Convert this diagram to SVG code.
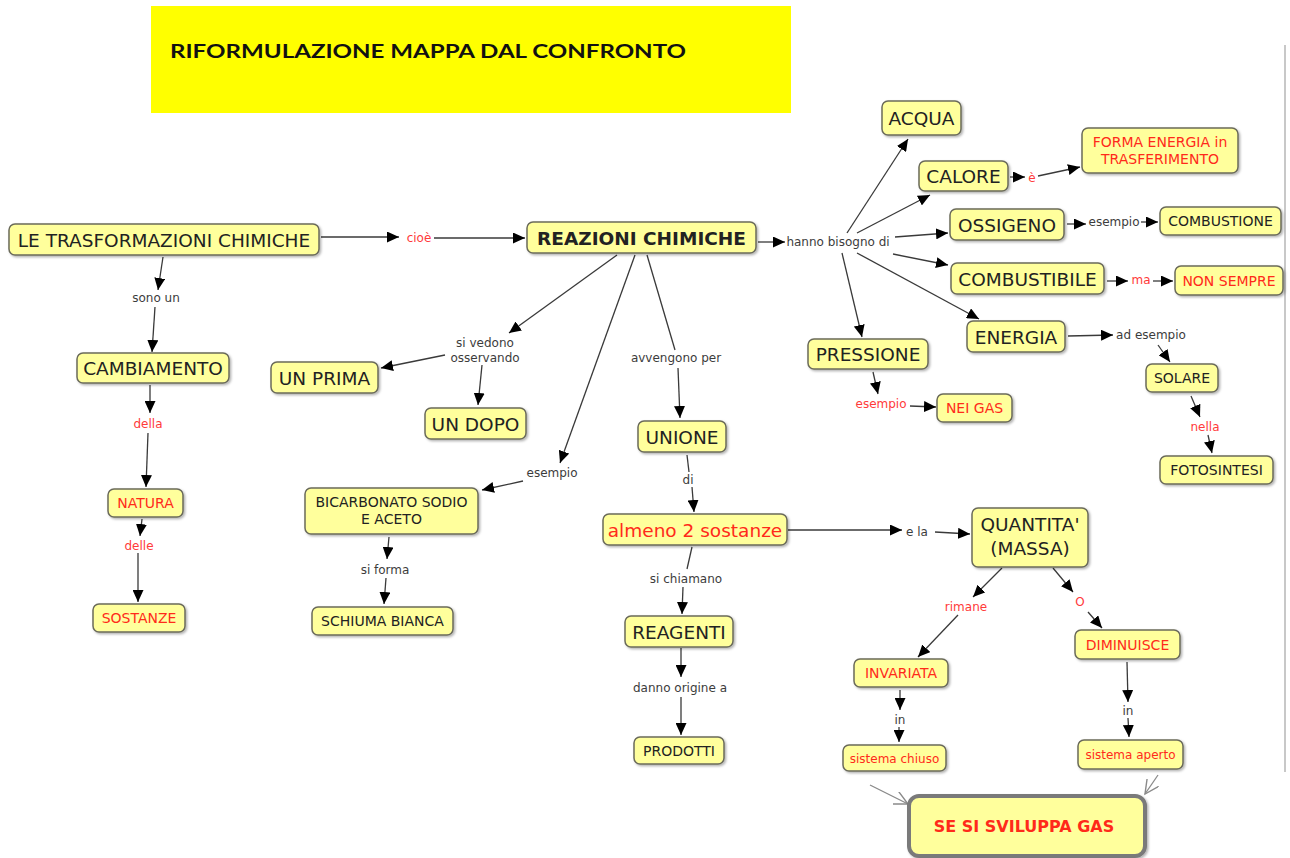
<svg xmlns="http://www.w3.org/2000/svg" width="1290" height="858" viewBox="0 0 1290 858">
  <defs>
    <filter id="shadow" x="-10%" y="-20%" width="130%" height="160%">
      <feDropShadow dx="1.5" dy="1.5" stdDeviation="1" flood-color="#000" flood-opacity="0.3"/>
    </filter>
    <marker id="arrow" markerUnits="userSpaceOnUse" markerWidth="13" markerHeight="11" refX="12" refY="5.5" orient="auto">
      <path d="M0,0 L12,5.5 L0,11 z" fill="#000"/>
    </marker>
    <marker id="open" markerUnits="userSpaceOnUse" markerWidth="16" markerHeight="14" refX="14" refY="7" orient="auto">
      <path d="M0,0 L14,7 L0,14" fill="none" stroke="#8a8a8a" stroke-width="1.4"/>
    </marker>
    <style>
      .node rect { fill: #ffff9c; stroke: #6b6b5a; stroke-width: 1.5; filter: url(#shadow); }
      .node text { font-family: "DejaVu Sans", Verdana, sans-serif; fill: #222; text-anchor: middle; }
      .big text { font-size: 18.5px; }
      .small text { font-size: 14px; }
      .tiny text { font-size: 12px; }
      .node text.red { fill: #ff2a1a; }
      .lbl { font-family: "DejaVu Sans", Verdana, sans-serif; font-size: 12px; fill: #3c3c3c; text-anchor: middle; }
      .lbl.red { fill: #ff3a3a; }
      .links path { fill: none; stroke: #3a3a3a; stroke-width: 1.3; }
      .links path.arr { marker-end: url(#arrow); }
      .links path.hollow { stroke: #8a8a8a; marker-end: url(#open); }
    </style>
  </defs>

  <rect x="0" y="0" width="1290" height="858" fill="#ffffff"/>

  <!-- title banner -->
  <g id="title">
    <rect x="151" y="6" width="640" height="107" fill="#ffff00"/>
    <text x="170" y="58" font-family="Lato, 'Liberation Sans', sans-serif" font-weight="bold" font-size="19" fill="#111" textLength="516" lengthAdjust="spacingAndGlyphs">RIFORMULAZIONE MAPPA DAL CONFRONTO</text>
  </g>

  <!-- page edge -->
  <line x1="1285" y1="45" x2="1285" y2="772" stroke="#c8c8c8" stroke-width="2"/>

  <!-- connectors -->
  <g id="connectors" class="links">
    <path class="arr" d="M321,237 L399,237"/>
    <path class="arr" d="M434,238 L525,238"/>
    <path class="arr" d="M163,257 L158,290"/>
    <path class="arr" d="M155,307 L152,352"/>
    <path class="arr" d="M150,385 L150,413"/>
    <path class="arr" d="M148,433 L146,487"/>
    <path class="arr" d="M142,519 L140,536"/>
    <path class="arr" d="M138,553 L138,602"/>

    <path class="arr" d="M758,242 L785,242"/>
    <path class="arr" d="M847,233 L908,139"/>
    <path class="arr" d="M857,233 L930,195"/>
    <path class="arr" d="M895,237 L948,233"/>
    <path class="arr" d="M893,254 L948,265"/>
    <path class="arr" d="M857,253 L979,319"/>
    <path class="arr" d="M842,253 L862,337"/>

    <path class="arr" d="M1010,177 L1025,177"/>
    <path class="arr" d="M1038,176 L1080,167"/>
    <path class="arr" d="M1067,224 L1086,224"/>
    <path class="arr" d="M1141,222 L1158,222"/>
    <path class="arr" d="M1107,281 L1128,281"/>
    <path class="arr" d="M1153,281 L1173,281"/>
    <path class="arr" d="M1068,336 L1113,335"/>
    <path class="arr" d="M1158,345 L1170,362"/>
    <path class="arr" d="M1191,396 L1200,417"/>
    <path class="arr" d="M1208,435 L1212,453"/>
    <path class="arr" d="M873,372 L878,394"/>
    <path class="arr" d="M910,406 L936,407"/>

    <path class="arr" d="M617,255 L509,333"/>
    <path class="arr" d="M445,355 L381,368"/>
    <path class="arr" d="M482,365 L478,405"/>
    <path class="arr" d="M635,255 L560,463"/>
    <path class="arr" d="M523,481 L482,490"/>
    <path class="arr" d="M389,537 L387,559"/>
    <path class="arr" d="M386,578 L384,604"/>

    <path d="M647,255 L675,350"/>
    <path class="arr" d="M678,368 L680,418"/>
    <path d="M687,455 L689,472"/>
    <path class="arr" d="M692,487 L694,512"/>
    <path d="M692,547 L687,569"/>
    <path class="arr" d="M683,587 L682,614"/>
    <path class="arr" d="M681,648 L681,677"/>
    <path class="arr" d="M681,697 L681,735"/>

    <path class="arr" d="M788,530 L902,530"/>
    <path class="arr" d="M935,532 L970,534"/>
    <path class="arr" d="M1002,568 L973,597"/>
    <path class="arr" d="M958,615 L918,657"/>
    <path class="arr" d="M1053,568 L1073,592"/>
    <path class="arr" d="M1088,612 L1102,628"/>
    <path class="arr" d="M900,690 L900,710"/>
    <path class="arr" d="M899,727 L899,742"/>
    <path class="arr" d="M1127,662 L1128,702"/>
    <path class="arr" d="M1128,718 L1129,737"/>

    <path class="hollow" d="M870,785 L908,804"/>
    <path class="hollow" d="M1158,775 L1145,794"/>
  </g>

  <!-- link labels -->
  <g id="labels">
    <text class="lbl red" x="419" y="242">cioè</text>
    <text class="lbl" x="156" y="302">sono un</text>
    <text class="lbl red" x="148" y="428">della</text>
    <text class="lbl red" x="139" y="550">delle</text>
    <text class="lbl" x="838" y="246">hanno bisogno di</text>
    <text class="lbl red" x="1032" y="182">è</text>
    <text class="lbl" x="1114" y="226">esempio</text>
    <text class="lbl red" x="1141" y="284">ma</text>
    <text class="lbl" x="1151" y="339">ad esempio</text>
    <text class="lbl red" x="1205" y="431">nella</text>
    <text class="lbl red" x="881" y="408">esempio</text>
    <text class="lbl" x="485" y="347">si vedono</text>
    <text class="lbl" x="485" y="362">osservando</text>
    <text class="lbl" x="552" y="477">esempio</text>
    <text class="lbl" x="676" y="362">avvengono per</text>
    <text class="lbl" x="688" y="484">di</text>
    <text class="lbl" x="385" y="574">si forma</text>
    <text class="lbl" x="686" y="583">si chiamano</text>
    <text class="lbl" x="680" y="692">danno origine a</text>
    <text class="lbl" x="917" y="536">e la</text>
    <text class="lbl red" x="966" y="611">rimane</text>
    <text class="lbl red" x="1080" y="606">O</text>
    <text class="lbl" x="900" y="724">in</text>
    <text class="lbl" x="1128" y="715">in</text>
  </g>

  <!-- concepts -->
  <g id="le-trasformazioni" class="node big"><rect x="9" y="224" width="310" height="31" rx="6"/><text x="164" y="246.5">LE TRASFORMAZIONI CHIMICHE</text></g>
  <g id="reazioni" class="node big"><rect x="527" y="222" width="229" height="31" rx="6"/><text x="641.5" y="244.5" font-weight="bold">REAZIONI CHIMICHE</text></g>
  <g id="cambiamento" class="node big"><rect x="77" y="353" width="152" height="30" rx="6"/><text x="153" y="375">CAMBIAMENTO</text></g>
  <g id="natura" class="node small"><rect x="108" y="489" width="75" height="28" rx="6"/><text class="red" x="145.5" y="508">NATURA</text></g>
  <g id="sostanze" class="node small"><rect x="93" y="604" width="92" height="28" rx="6"/><text class="red" x="139" y="623">SOSTANZE</text></g>
  <g id="un-prima" class="node big"><rect x="271" y="362" width="107" height="31" rx="6"/><text x="324.5" y="384.5">UN PRIMA</text></g>
  <g id="un-dopo" class="node big"><rect x="425" y="408" width="101" height="31" rx="6"/><text x="475.5" y="430.5">UN DOPO</text></g>
  <g id="bicarbonato" class="node small"><rect x="305" y="488" width="173" height="46" rx="6"/><text x="391.5" y="507">BICARBONATO SODIO</text><text x="391.5" y="524">E ACETO</text></g>
  <g id="schiuma" class="node small"><rect x="312" y="607" width="141" height="28" rx="6"/><text x="382.5" y="626">SCHIUMA BIANCA</text></g>
  <g id="unione" class="node big"><rect x="638" y="421" width="88" height="31" rx="6"/><text x="682" y="443.5">UNIONE</text></g>
  <g id="almeno" class="node big"><rect x="603" y="514" width="184" height="31" rx="6"/><text class="red" x="695" y="536.5">almeno 2 sostanze</text></g>
  <g id="reagenti" class="node big"><rect x="625" y="616" width="108" height="31" rx="6"/><text x="679" y="638.5">REAGENTI</text></g>
  <g id="prodotti" class="node small"><rect x="634" y="737" width="90" height="27" rx="6"/><text x="679" y="755.5">PRODOTTI</text></g>
  <g id="acqua" class="node big"><rect x="882" y="101" width="79" height="34" rx="6"/><text x="921.5" y="125">ACQUA</text></g>
  <g id="calore" class="node big"><rect x="919" y="161" width="89" height="30" rx="6"/><text x="963.5" y="183">CALORE</text></g>
  <g id="forma-energia" class="node small"><rect x="1082" y="128" width="156" height="45" rx="6"/><text class="red" x="1160" y="147">FORMA ENERGIA in</text><text class="red" x="1160" y="164">TRASFERIMENTO</text></g>
  <g id="ossigeno" class="node big"><rect x="950" y="209" width="114" height="31" rx="6"/><text x="1007" y="231.5">OSSIGENO</text></g>
  <g id="combustione" class="node small"><rect x="1160" y="207" width="121" height="28" rx="6"/><text x="1220.5" y="226">COMBUSTIONE</text></g>
  <g id="combustibile" class="node big"><rect x="951" y="263" width="153" height="31" rx="6"/><text x="1027.5" y="285.5">COMBUSTIBILE</text></g>
  <g id="non-sempre" class="node small"><rect x="1175" y="266" width="108" height="29" rx="6"/><text class="red" x="1229" y="285.5">NON SEMPRE</text></g>
  <g id="energia" class="node big"><rect x="967" y="321" width="98" height="31" rx="6"/><text x="1016" y="343.5">ENERGIA</text></g>
  <g id="solare" class="node small"><rect x="1146" y="364" width="72" height="28" rx="6"/><text x="1182" y="383">SOLARE</text></g>
  <g id="fotosintesi" class="node small"><rect x="1160" y="456" width="113" height="28" rx="6"/><text x="1216.5" y="475">FOTOSINTESI</text></g>
  <g id="pressione" class="node big"><rect x="808" y="339" width="120" height="30" rx="6"/><text x="868" y="361">PRESSIONE</text></g>
  <g id="nei-gas" class="node small"><rect x="937" y="394" width="75" height="28" rx="6"/><text class="red" x="974.5" y="413">NEI GAS</text></g>
  <g id="quantita" class="node big"><rect x="972" y="508" width="116" height="59" rx="6"/><text x="1030" y="531">QUANTITA'</text><text x="1030" y="555">(MASSA)</text></g>
  <g id="invariata" class="node small"><rect x="854" y="659" width="94" height="28" rx="6"/><text class="red" x="901" y="678">INVARIATA</text></g>
  <g id="diminuisce" class="node small"><rect x="1075" y="630" width="105" height="29" rx="6"/><text class="red" x="1127.5" y="649.5">DIMINUISCE</text></g>
  <g id="sistema-chiuso" class="node tiny"><rect x="843" y="745" width="103" height="26" rx="6"/><text class="red" x="894.5" y="762.5">sistema chiuso</text></g>
  <g id="sistema-aperto" class="node tiny"><rect x="1078" y="740" width="105" height="29" rx="6"/><text class="red" x="1130.5" y="759">sistema aperto</text></g>
  <g id="sviluppa-gas" class="node">
    <rect x="909" y="796" width="236" height="60" rx="10" style="stroke:#7a7a7a;stroke-width:4"/>
    <text class="red" x="1024" y="832" font-size="16" font-weight="bold">SE SI SVILUPPA GAS</text>
  </g>
</svg>
